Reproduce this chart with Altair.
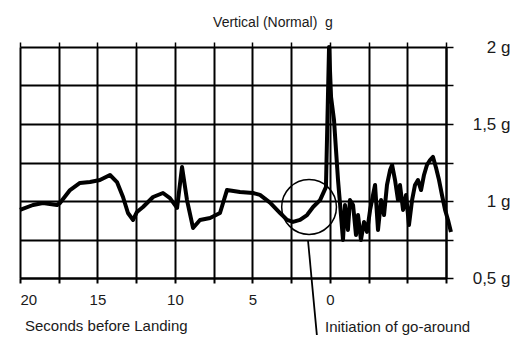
import altair as alt
import pandas as pd

# Seconds before landing (positive = before touchdown), vertical acceleration in g
seconds = [20.0, 19.16, 18.52, 17.61, 17.42, 16.77, 16.13, 15.48, 14.84, 14.19,
           13.74, 13.35, 13.03, 12.70, 12.45, 12.06, 11.41, 10.77, 10.32, 9.86,
           9.54, 9.22, 8.83, 8.38, 7.73, 7.09, 6.64, 5.80, 4.96, 4.51,
           3.86, 3.21, 2.76, 2.38, 1.92, 1.47, 1.08, 0.63, 0.25, 0.05,
           -0.08, -0.27, -0.40, -0.53, -0.72, -0.85, -0.98, -1.17, -1.30, -1.50,
           -1.69, -1.82, -2.01, -2.21, -2.40, -2.60, -2.79, -2.92, -3.11, -3.31,
           -3.50, -3.69, -3.89, -4.02, -4.21, -4.40, -4.53, -4.73, -4.92, -5.11,
           -5.31, -5.50, -5.69, -5.89, -6.08, -6.27, -6.47, -6.66, -6.86, -7.05,
           -7.24, -7.44, -7.63, -7.82]
g_load = [0.942, 0.974, 0.987, 0.974, 0.987, 1.071, 1.117, 1.123, 1.136, 1.169,
          1.123, 1.026, 0.922, 0.877, 0.929, 0.961, 1.026, 1.052, 1.019, 0.955,
          1.221, 1.006, 0.825, 0.877, 0.890, 0.922, 1.071, 1.058, 1.052, 1.040,
          0.990, 0.922, 0.877, 0.864, 0.877, 0.909, 0.961, 1.006, 1.090, 2.000,
          1.675, 1.526, 1.330, 1.136, 0.909, 0.747, 0.974, 0.812, 1.006, 0.974,
          0.779, 0.909, 0.747, 0.864, 0.799, 0.942, 1.039, 1.104, 0.812, 1.006,
          0.909, 1.104, 1.201, 1.234, 1.136, 1.006, 1.104, 0.942, 1.039, 0.844,
          1.006, 1.104, 1.136, 1.071, 1.169, 1.234, 1.266, 1.286, 1.214, 1.136,
          1.039, 0.942, 0.877, 0.799]

x_ticks = [20, 17.5, 15, 12.5, 10, 7.5, 5, 2.5, 0, -2.5, -5, -7.5]
y_ticks = [0.5, 0.75, 1.0, 1.25, 1.5, 1.75, 2.0]
y_label_values = [0.5, 1.0, 1.5, 2.0]
y_label_texts = ["0,5 g", "1 g", "1,5 g", "2 g"]

title_text = "Vertical (Normal)\u00a0\u00a0g"
x_caption = "Seconds before Landing"
note_caption = "Initiation of go-around"

# circle around go-around initiation and pointer line (data coordinates)
circle_t, circle_g = [1.34], [0.961]
pointer_t, pointer_t2 = [1.41], [0.83]
pointer_g, pointer_g2 = [0.747], [0.123]

FONT = "Liberation Sans"
INK = "#1a1a1a"

df = pd.DataFrame({"t": seconds, "g": g_load})

label_expr = " : ".join(
    f"datum.value == {v} ? '{t}'" for v, t in zip(y_label_values, y_label_texts)
) + " : ''"

xscale = alt.Scale(domain=[-7.5, 20], reverse=True, nice=False, zero=False)
yscale = alt.Scale(domain=[0.5, 2.0], nice=False, zero=False)

y_axis = alt.Axis(orient="right", values=y_ticks, title=None, grid=True,
                  gridColor="black", gridWidth=2, gridOpacity=1,
                  domainColor="black", domainWidth=2, tickColor="black",
                  tickWidth=1.5, tickSize=7, labelExpr=label_expr,
                  labelAlign="right", labelPadding=57, labelFont=FONT,
                  labelFontSize=17, labelColor=INK)

line = alt.Chart(df).mark_line(color="black", strokeWidth=4, clip=False,
                               strokeJoin="round").encode(
    x=alt.X("t:Q", scale=xscale,
            axis=alt.Axis(values=x_ticks, title=None, grid=True, gridColor="black",
                          gridWidth=2, gridOpacity=1, domainColor="black", domainWidth=2,
                          tickColor="black", tickWidth=2, tickSize=5,
                          labelExpr="datum.value >= 0 && datum.value % 5 == 0 ? datum.label : ''",
                          labelFont=FONT, labelFontSize=15, labelColor=INK,
                          labelPadding=9)),
    y=alt.Y("g:Q", scale=yscale, axis=y_axis),
)

circ_df = pd.DataFrame({"t": circle_t, "g": circle_g})
circle = alt.Chart(circ_df).mark_point(shape="circle", size=3000, filled=False,
                                       color="black", strokeWidth=1.5,
                                       opacity=1).encode(
    x=alt.X("t:Q", scale=xscale,
            axis=alt.Axis(orient="top", values=x_ticks, labels=False, title=None,
                          domain=False, grid=False, tickColor="black", tickWidth=1.5,
                          tickSize=5)),
    y=alt.Y("g:Q", scale=yscale, axis=y_axis),
)

ptr_df = pd.DataFrame({"t": pointer_t, "t2": pointer_t2, "g": pointer_g, "g2": pointer_g2})
pointer = alt.Chart(ptr_df).mark_rule(color="black", strokeWidth=1.8).encode(
    x=alt.X("t:Q", scale=xscale, axis=None), x2="t2:Q",
    y=alt.Y("g:Q", scale=yscale, axis=y_axis), y2="g2:Q",
)

cap_df = pd.DataFrame({"txt": [x_caption]})
cap = alt.Chart(cap_df).mark_text(font=FONT, fontSize=15, align="left",
                                  baseline="alphabetic", color=INK).encode(
    text="txt:N", x=alt.value(5), y=alt.value(284))

note_df = pd.DataFrame({"txt": [note_caption]})
note = alt.Chart(note_df).mark_text(font=FONT, fontSize=15, align="left",
                                    baseline="alphabetic", color=INK).encode(
    text="txt:N", x=alt.value(305), y=alt.value(285))

chart = alt.layer(line, circle, pointer, cap, note).resolve_axis(x="independent").properties(
    width=426, height=231,
    title=alt.TitleParams(title_text, font=FONT, fontSize=14, fontWeight="normal",
                          color=INK, anchor="middle", dx=40, offset=8),
    autosize="none",
    padding={"left": 12, "top": 39, "right": 64, "bottom": 57},
).configure_view(stroke="black", strokeWidth=2).configure(background="white")

chart.save("out.html", embed_options={"renderer": "svg", "actions": False})
